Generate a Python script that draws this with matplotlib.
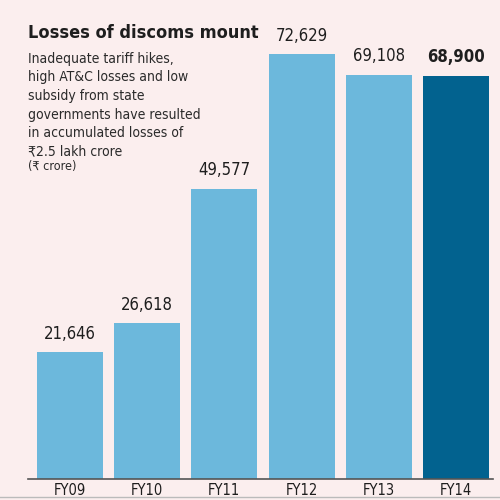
import matplotlib.pyplot as plt
from matplotlib.lines import Line2D

years = ['FY09', 'FY10', 'FY11', 'FY12', 'FY13', 'FY14']
losses = [21646, 26618, 49577, 72629, 69108, 68900]
value_labels = ['21,646', '26,618', '49,577', '72,629', '69,108', '68,900']

bg = '#fbeeee'
light_blue = '#6cb8dc'
dark_blue = '#02628f'
# condensed face, closest to the newspaper font
txt = dict(family='DejaVu Sans', fontstretch='condensed')

fig = plt.figure(figsize=(5, 5), dpi=100, facecolor=bg)
ax = fig.add_axes([0.056, 0.042, 0.93, 0.958])
ax.set_facecolor(bg)

colors = [light_blue] * 5 + [dark_blue]
x = range(len(years))
ax.bar(x, losses, width=0.855, color=colors, zorder=2)

for i, (v, lab) in enumerate(zip(losses, value_labels)):
    ax.annotate(lab, (i, v), xytext=(0, 7), textcoords='offset points',
                ha='center', va='bottom', fontsize=12, color='#1e1e1e',
                fontweight='bold' if i == 5 else 'normal', **txt)

ax.set_xlim(-0.544, 5.48)
ax.set_ylim(0, 81900)
ax.set_xticks(list(x))
ax.set_xticklabels(years, fontsize=10.5, color='#1e1e1e', **txt)
ax.tick_params(axis='x', length=0, pad=3)
ax.set_yticks([])
for s in ['top', 'right', 'left']:
    ax.spines[s].set_visible(False)
ax.spines['bottom'].set_color('#555555')
ax.spines['bottom'].set_linewidth(1.2)

# heading and notes
fig.text(0.056, 1 - 38 / 500, 'Losses of discoms mount', fontsize=13,
         fontweight='bold', color='#1e1e1e', va='baseline', **txt)
notes = ['Inadequate tariff hikes,', 'high AT&C losses and low',
         'subsidy from state', 'governments have resulted',
         'in accumulated losses of', '₹2.5 lakh crore']
for k, line in enumerate(notes):
    fig.text(0.056, 1 - (63 + 18.5 * k) / 500, line, fontsize=10,
             color='#2a2a2a', va='baseline', **txt)
fig.text(0.056, 1 - 170 / 500, '(₹ crore)', fontsize=9,
         color='#2a2a2a', va='baseline', **txt)

fig.add_artist(Line2D([0, 1], [0.006, 0.006], transform=fig.transFigure,
                      color='#bbbbbb', lw=1))

fig.savefig('out.png', dpi=100, facecolor=bg)
